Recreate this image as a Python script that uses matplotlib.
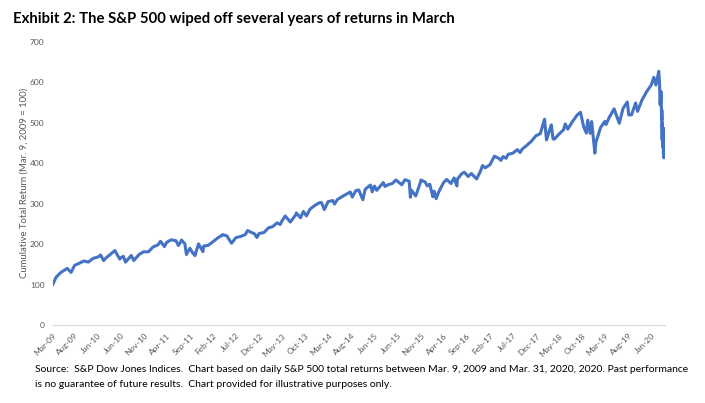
import matplotlib
matplotlib.use("Agg")
import matplotlib.pyplot as plt
import pandas as pd

dates = [
    "2009-03-09", "2009-03-31", "2009-04-30", "2009-05-29", "2009-06-12", "2009-07-08", "2009-07-31",
    "2009-08-31", "2009-09-30", "2009-10-30", "2009-11-30", "2009-12-31",
    "2010-01-19", "2010-02-08", "2010-02-26", "2010-03-31", "2010-04-23", "2010-05-25", "2010-05-28",
    "2010-06-18", "2010-07-02", "2010-07-30", "2010-08-09", "2010-08-26", "2010-09-30", "2010-10-29",
    "2010-11-30", "2010-12-31",
    "2011-01-31", "2011-02-18", "2011-03-16", "2011-03-31", "2011-04-29", "2011-05-31", "2011-06-16",
    "2011-06-30", "2011-07-07", "2011-07-29", "2011-08-08", "2011-08-31", "2011-09-22", "2011-09-30",
    "2011-10-03", "2011-10-27", "2011-11-25", "2011-11-30", "2011-12-30",
    "2012-01-31", "2012-02-29", "2012-03-30", "2012-04-02", "2012-04-30", "2012-06-01", "2012-06-29",
    "2012-07-31", "2012-08-31", "2012-09-14", "2012-10-31", "2012-11-15", "2012-11-30", "2012-12-31",
    "2013-01-31", "2013-02-28", "2013-03-28", "2013-04-18", "2013-04-30", "2013-05-21", "2013-06-24",
    "2013-07-31", "2013-08-02", "2013-08-30", "2013-09-18", "2013-10-08", "2013-10-31", "2013-11-29",
    "2013-12-31",
    "2014-01-15", "2014-02-03", "2014-02-28", "2014-03-31", "2014-04-11", "2014-04-30", "2014-05-30",
    "2014-06-30", "2014-07-24", "2014-08-07", "2014-08-29", "2014-09-18", "2014-10-15", "2014-10-31",
    "2014-11-28", "2014-12-05", "2014-12-16", "2014-12-31",
    "2015-01-15", "2015-02-27", "2015-03-10", "2015-03-31", "2015-04-30", "2015-05-21", "2015-06-29",
    "2015-07-20", "2015-08-17", "2015-08-25", "2015-08-31", "2015-09-29", "2015-10-30", "2015-11-03",
    "2015-11-30", "2015-12-14", "2015-12-31",
    "2016-01-20", "2016-01-29", "2016-02-11", "2016-02-29", "2016-03-31", "2016-04-20", "2016-05-19",
    "2016-06-08", "2016-06-27", "2016-06-30", "2016-07-29", "2016-08-15", "2016-09-09", "2016-09-30",
    "2016-11-04", "2016-11-30", "2016-12-13", "2016-12-30",
    "2017-01-31", "2017-03-01", "2017-03-31", "2017-04-13", "2017-04-28", "2017-05-17", "2017-05-31",
    "2017-06-30", "2017-07-31", "2017-08-18", "2017-08-31", "2017-09-29", "2017-10-31", "2017-11-30",
    "2017-12-29",
    "2018-01-26", "2018-02-08", "2018-02-28", "2018-03-12", "2018-03-23", "2018-04-02", "2018-04-30",
    "2018-05-31", "2018-06-12", "2018-06-28", "2018-07-31", "2018-08-31", "2018-09-20", "2018-10-11",
    "2018-10-29", "2018-11-07", "2018-11-23", "2018-12-03", "2018-12-24", "2018-12-31",
    "2019-01-31", "2019-02-28", "2019-03-08", "2019-03-29", "2019-04-30", "2019-06-03", "2019-06-28",
    "2019-07-26", "2019-08-05", "2019-08-23", "2019-09-19", "2019-10-02", "2019-10-31", "2019-11-29",
    "2019-12-31",
    "2020-01-17", "2020-01-31", "2020-02-19", "2020-02-21", "2020-02-24", "2020-02-25", "2020-02-27",
    "2020-02-28", "2020-03-02", "2020-03-03", "2020-03-04", "2020-03-05", "2020-03-06", "2020-03-09",
    "2020-03-10", "2020-03-11", "2020-03-12", "2020-03-13", "2020-03-16", "2020-03-17", "2020-03-18",
    "2020-03-19", "2020-03-20", "2020-03-23", "2020-03-24", "2020-03-25", "2020-03-26", "2020-03-27",
    "2020-03-30", "2020-03-31",
]

total_return = [
    100, 118, 129.4, 136.5, 140, 130, 147.4,
    152.6, 158.3, 155.5, 164.7, 167.9,
    173, 159.2, 166.7, 176.6, 184, 162.8, 165.2,
    169.8, 155.3, 167.5, 171.8, 159.5, 174.2, 181.0,
    180.8, 192.9,
    197.7, 206.8, 193.8, 204.4, 210.6, 208.2, 196.4,
    204.7, 210, 200.7, 174.2, 189.7, 176, 176.4,
    171.5, 200.5, 181.3, 195.0, 197.0,
    206.0, 214.7, 221.9, 223.3, 220.6, 202, 215.7,
    218.8, 223.5, 233.3, 225.2, 216.2, 226.3, 228.3,
    240.2, 243.3, 252.4, 248.4, 257.5, 269.4, 254.4,
    273.1, 277, 265.0, 280.6, 269.5, 286.0, 294.6,
    302.0,
    302.6, 285.2, 304.9, 307.5, 298.8, 309.9, 317.0,
    323.6, 328.7, 316, 331.8, 333.8, 309.6, 335.4,
    344.2, 345.8, 329.1, 343.3,
    332.8, 352.1, 342.4, 346.6, 350.1, 358.5, 346.6,
    359, 355.2, 315.6, 333.3, 318.9, 352.6, 358.3,
    353.3, 343.9, 347.7,
    316.9, 330.6, 312.2, 329.8, 352.1, 359.7, 349.6,
    363.5, 343.6, 360.6, 374.0, 377.5, 367, 374.3,
    361.0, 380.9, 394, 388.4,
    396.0, 417, 411.9, 406.6, 416.3, 412, 421.8,
    424.5, 433.4, 426, 434.3, 443.4, 454.0, 467.5,
    472.8,
    508.5, 457.4, 481.4, 494.5, 459.8, 459.5, 471.3,
    482.2, 496.8, 484, 503.6, 519.6, 525.6, 490,
    474.4, 506, 473.6, 502.7, 424.5, 451.7,
    488.0, 503.3, 495.4, 513.1, 534.1, 498.5, 535.1,
    551, 519, 519.4, 548.6, 527.8, 555.9, 575.7,
    593.0,
    612, 593.0, 627, 615, 594, 576, 549,
    544, 569, 553, 577, 548, 548, 506,
    531, 505, 457, 500, 440, 466, 442,
    444, 425, 413, 451, 456, 485, 468,
    484, 476,
]

tick_months = ["2009-03", "2009-08", "2010-01", "2010-06", "2010-11", "2011-04", "2011-09",
               "2012-02", "2012-07", "2012-12", "2013-05", "2013-10", "2014-03", "2014-08",
               "2015-01", "2015-06", "2015-11", "2016-04", "2016-09", "2017-02", "2017-07",
               "2017-12", "2018-05", "2018-10", "2019-03", "2019-08", "2020-01"]
y_ticks = [0, 100, 200, 300, 400, 500, 600, 700]

title = "Exhibit 2: The S&P 500 wiped off several years of returns in March"
y_label = "Cumulative Total Return (Mar. 9, 2009 = 100)"
footer1 = ("Source:  S&P Dow Jones Indices.  Chart based on daily S&P 500 total returns between "
           "Mar. 9, 2009 and Mar. 31, 2020, 2020. Past performance")
footer2 = "is no guarantee of future results.  Chart provided for illustrative purposes only."

plt.rcParams['font.family'] = ['Lato', 'DejaVu Sans']

x = pd.to_datetime(dates)
ticks = pd.to_datetime(tick_months)
ticks = [x[0]] + list(ticks[1:])

fig = plt.figure(figsize=(7.05, 4.03), dpi=100)
ax = fig.add_axes([0.0748, 0.1935, 0.8685, 0.703])

ax.plot(x, total_return, color="#4472C4", lw=2.2, solid_joinstyle="round")

ax.set_xlim(x[0], pd.Timestamp("2020-03-31"))
ax.set_ylim(0, 700)
ax.set_yticks(y_ticks)
ax.set_yticklabels([str(v) for v in y_ticks])
ax.set_xticks(ticks)
ax.set_xticklabels([pd.Timestamp(t).strftime("%b-%y") for t in ticks],
                   rotation=45, ha="right", va="top", rotation_mode="anchor")

for s in ["top", "right", "left"]:
    ax.spines[s].set_visible(False)
ax.spines["bottom"].set_color("#d9d9d9")
ax.spines["bottom"].set_linewidth(0.9)
ax.tick_params(axis="both", length=0, labelsize=6, labelcolor="#595959")
ax.tick_params(axis="y", pad=6)
ax.tick_params(axis="x", pad=5)

ax.set_ylabel(y_label, fontsize=6.8, color="#595959", labelpad=1)

fig.text(0.018, 0.953, title, fontsize=10.75, fontweight="bold", color="black",
         ha="left", va="center")
fig.text(0.05, 0.084, footer1, fontsize=7.5, color="black", ha="left", va="center")
fig.text(0.05, 0.046, footer2, fontsize=7.5, color="black", ha="left", va="center")

fig.savefig("out.png", dpi=100)
